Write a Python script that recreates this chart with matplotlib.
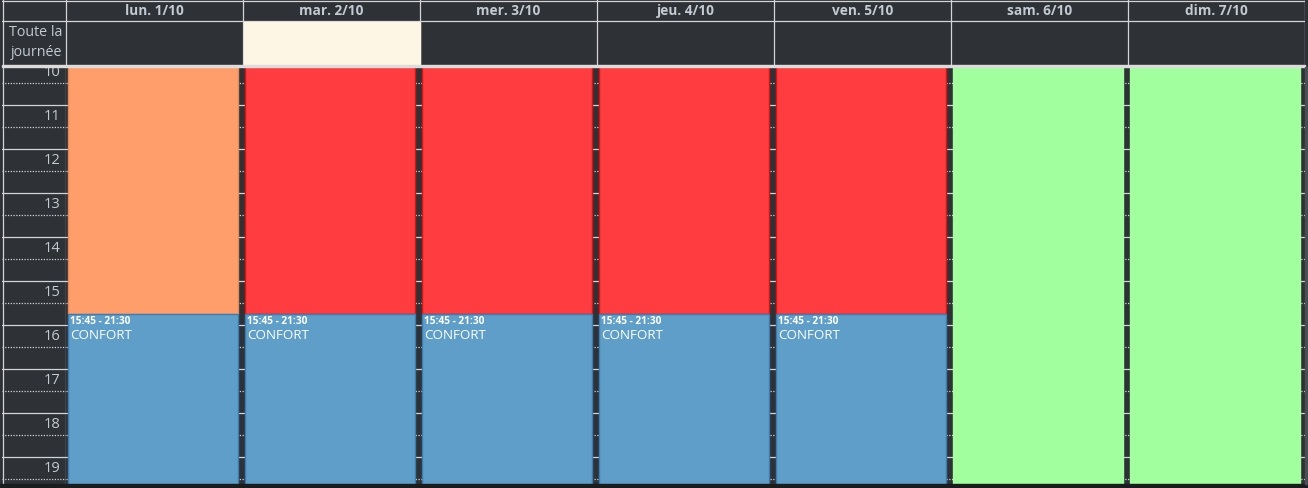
import matplotlib.pyplot as plt

plt.rcParams['font.family'] = ['Open Sans', 'DejaVu Sans']

# week view data
days = ["lun. 1/10", "mar. 2/10", "mer. 3/10", "jeu. 4/10", "ven. 5/10", "sam. 6/10", "dim. 7/10"]
hours = [10, 11, 12, 13, 14, 15, 16, 17, 18, 19]
allday_day = 1  # highlighted all-day cell (today)

# events: day index, start hour, end hour, fill, edge, title, time text
ev_day   = [0, 1, 2, 3, 4, 5, 6, 0, 1, 2, 3, 4]
ev_start = [0, 0, 0, 0, 0, 0, 0, 15.75, 15.75, 15.75, 15.75, 15.75]
ev_end   = [15.75, 15.75, 15.75, 15.75, 15.75, 24, 24, 21.5, 21.5, 21.5, 21.5, 21.5]
ev_color = ["#ff9e6b", "#ff3c40", "#ff3c40", "#ff3c40", "#ff3c40", "#a1ff9e", "#a1ff9e",
            "#5e9ec8", "#5e9ec8", "#5e9ec8", "#5e9ec8", "#5e9ec8"]
ev_edge  = ["#e88a58", "#e01010", "#e01010", "#e01010", "#e01010", "#a1ff9e", "#a1ff9e",
            "#3a7db4", "#3a7db4", "#3a7db4", "#3a7db4", "#3a7db4"]
ev_title = ["", "", "", "", "", "", "", "CONFORT", "CONFORT", "CONFORT", "CONFORT", "CONFORT"]
ev_time  = ["", "", "", "", "", "", "", "15:45 - 21:30", "15:45 - 21:30", "15:45 - 21:30",
            "15:45 - 21:30", "15:45 - 21:30"]

view_top, view_bottom = 10.136, 19.614

W, H = 1308, 488
bg = "#2e3136"
line = "#d4d4d4"
txt = "#c3cad1"

fig = plt.figure(figsize=(W / 100, H / 100), dpi=100, facecolor=bg)

def box(l, t, r, b):
    return [l / W, 1 - b / H, (r - l) / W, (b - t) / H]

# body with events
ax = fig.add_axes(box(66, 67, 1305, 484))
ax.set_facecolor(bg)
ax.set_xlim(0, 7)
ax.set_ylim(view_bottom, view_top)
ax.axis("off")
for h in range(10, 21):
    ax.axhline(h, color=line, lw=0.9, zorder=1)
    ax.axhline(h + 0.5, color=line, lw=0.9, ls=(0, (1, 1.2)), zorder=1)

cw = 177.0
for i in range(len(ev_day)):
    ax.bar(ev_day[i] + 2 / cw, ev_end[i] - ev_start[i], bottom=ev_start[i], width=170 / cw,
           align="edge", color=ev_color[i], edgecolor=ev_edge[i], linewidth=1, zorder=3)
    if ev_time[i]:
        ax.text(ev_day[i] + 4 / cw, ev_start[i] + 0.16, ev_time[i], color="white", fontsize=7.3,
                fontweight="bold", va="center", ha="left", zorder=4)
        ax.text(ev_day[i] + 4 / cw, ev_start[i] + 0.49, ev_title[i], color="white", fontsize=9.6,
                va="center", ha="left", zorder=4)

# time column
axt = fig.add_axes(box(2, 67, 66, 484))
axt.set_facecolor(bg)
axt.set_xlim(0, 64)
axt.set_ylim(view_bottom, view_top)
axt.axis("off")
for h in range(10, 21):
    axt.axhline(h, color=line, lw=0.9)
    axt.axhline(h + 0.5, color=line, lw=0.9, ls=(0, (1, 1.2)))
axt.axvline(0.5, color=line, lw=0.9)
axt.axvline(63.5, color=line, lw=0.9)
for h in hours:
    axt.text(58.5, h + 0.26, str(h), color=txt, fontsize=10.6, ha="right", va="center")

# header
axh = fig.add_axes(box(2, 0, 1305, 65))
axh.set_facecolor(bg)
axh.set_xlim(-64 / cw, 7)
axh.set_ylim(65, 0)
axh.axis("off")
axh.axhline(0.6, color=line, lw=0.9)
axh.axhline(21, color=line, lw=0.9)
axh.axvline(-64 / cw + 0.003, color=line, lw=0.9)
for d in range(8):
    axh.axvline(d, color=line, lw=0.9)
axh.add_patch(plt.Rectangle((allday_day + 1 / cw, 21.5), 176 / cw, 43, color="#fdf6e4", zorder=2))
for d, name in enumerate(days):
    axh.text(d + 0.5, 11, name, color=txt, fontsize=9.8, fontweight="bold", ha="center", va="center")
axh.text(-4 / cw, 32, "Toute la", color=txt, fontsize=10.3, ha="right", va="center")
axh.text(-4 / cw, 52.5, "journée", color=txt, fontsize=10.3, ha="right", va="center")

# separator under the all-day row and frame strips
fig.add_artist(plt.Rectangle((2 / W, 1 - 67 / H), 1303 / W, 2.5 / H, color="#dcdcdc",
                             transform=fig.transFigure))
fig.add_artist(plt.Rectangle((0, 0), 1, 4 / H, color="#1b1c1e", transform=fig.transFigure))
fig.add_artist(plt.Rectangle((1305 / W, 4 / H), 3 / W, 1 - 67 / H - 4 / H, color="#4b4e53",
                             transform=fig.transFigure))

fig.savefig("out.png", dpi=100, facecolor=bg)
